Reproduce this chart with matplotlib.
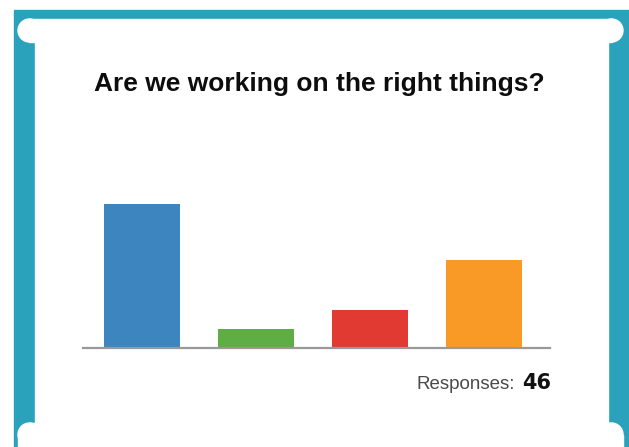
import matplotlib
matplotlib.use("Agg")
import matplotlib.pyplot as plt
from matplotlib.patches import Rectangle, Ellipse

# Data
title = "Are we working on the right things?"
categories = ["Option A", "Option B", "Option C", "Option D"]
values = [23, 3, 6, 14]
bar_colors = ["#3d85bf", "#5fae45", "#e03a33", "#f89a25"]
responses = 46

W, H = 629, 447
fig = plt.figure(figsize=(W / 100, H / 100), dpi=100)
fig.patch.set_facecolor("white")

# Background (pixel coordinates)
bg = fig.add_axes([0, 0, 1, 1])
bg.set_xlim(0, W)
bg.set_ylim(H, 0)
bg.axis("off")
teal = "#2aa2bc"
bg.add_patch(Rectangle((14, 10), W - 14, H - 10, color=teal, zorder=0))
# card body
bg.add_patch(Rectangle((35, 28), 608 - 35, 428 - 28, color="white", zorder=1))
# top and bottom rounded bars
bg.add_patch(Rectangle((18 + 11, 19), 623 - 18 - 22, 23, color="white", zorder=1))
for cx in (18 + 11.5, 623 - 11.5):
    bg.add_patch(Ellipse((cx, 30.5), 23, 23, color="white", zorder=1))
bg.add_patch(Rectangle((18 + 11, 423), 623 - 18 - 22, 30, color="white", zorder=1))
for cx in (18 + 11.5, 623 - 11.5):
    bg.add_patch(Ellipse((cx, 434.5), 23, 23, color="white", zorder=1))
bg.add_patch(Rectangle((18, 434.5), 623 - 18, 20, color="white", zorder=1))

bg.text(319, 84, title, ha="center", va="center", fontsize=19, fontweight="bold",
        family="Liberation Sans", color="#0d0d0d", zorder=3)
bg.text(515, 389, "Responses:", ha="right", va="baseline", fontsize=13.5,
        family="Liberation Sans", color="#4a4a4a", zorder=3)
bg.text(551, 389, str(responses), ha="right", va="baseline", fontsize=15, fontweight="bold",
        family="DejaVu Sans", color="#111111", zorder=3)

# Bar axes
left, right, base, top = 83, 550, 348, 204
ax = fig.add_axes([left / W, (H - base) / H, (right - left) / W, (base - top) / H])
ax.patch.set_alpha(0)
x = list(range(len(categories)))
ax.bar(x, values, width=0.667, color=bar_colors, zorder=2)
ax.set_xlim(-0.52, 3.58)
ax.set_ylim(0, max(values))
for s in ("top", "right", "left"):
    ax.spines[s].set_visible(False)
ax.spines["bottom"].set_color("#999999")
ax.spines["bottom"].set_linewidth(1.6)
ax.set_xticks([])
ax.set_yticks([])

fig.savefig("out.png", dpi=100, facecolor="white")
